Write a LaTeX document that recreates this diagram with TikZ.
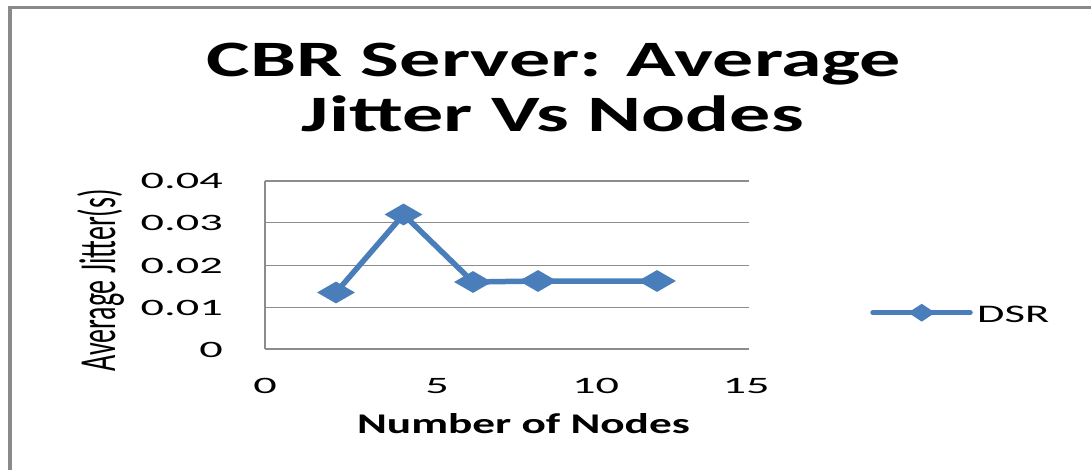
\documentclass[tikz,border=0pt]{standalone}
\usepackage{fontspec}
\setmainfont{Carlito}
\usetikzlibrary{shapes.geometric}
\definecolor{serblue}{RGB}{74,126,187}
\definecolor{gridgray}{RGB}{140,140,140}
\definecolor{framegray}{RGB}{138,138,138}
\begin{document}
\begin{tikzpicture}[x=1pt,y=-1pt,
  frameline/.style={draw=framegray},
  gridline/.style={draw=gridgray,line width=1.5pt},
  dataline/.style={draw=serblue,line width=5.5pt,line join=round,line cap=round},
  marker/.style={diamond,fill=serblue,draw=none,inner sep=0pt,minimum width=38pt,minimum height=22pt},
  legmarker/.style={diamond,fill=serblue,draw=none,inner sep=0pt,minimum width=27pt,minimum height=18pt},
  ticklab/.style={inner sep=0pt,font=\fontsize{23.5}{23.5}\selectfont},
  titlelab/.style={inner sep=0pt,anchor=base,font=\fontsize{51}{51}\selectfont\bfseries},
]
\useasboundingbox (0,0) rectangle (1091,470);
\fill[white] (0,0) rectangle (1091,470);
% frame
\draw[frameline,line width=3pt] (8,7.5) -- (1091,7.5);
\draw[frameline,line width=4pt] (10,6) -- (10,470);
% title
\node[titlelab] (t1) at (554,77) {\scalebox{1.61}[1]{CBR Server: Average}};
\node[titlelab] (t2) at (553,132) {\scalebox{1.61}[1]{Jitter Vs Nodes}};
% grid
\foreach \y in {181,222.3,265.7,307.7,349} {
  \draw[gridline] (265,\y) -- (749,\y);
}
\draw[gridline] (265,181) -- (265,349);
% y tick labels
\node[ticklab,anchor=base east] (y4) at (223,189) {\scalebox{1.97}[1]{0.04}};
\node[ticklab,anchor=base east] (y3) at (223,230.5) {\scalebox{1.97}[1]{0.03}};
\node[ticklab,anchor=base east] (y2) at (223,273.5) {\scalebox{1.97}[1]{0.02}};
\node[ticklab,anchor=base east] (y1) at (223,315.5) {\scalebox{1.97}[1]{0.01}};
\node[ticklab,anchor=base east] (y0) at (223,357) {\scalebox{1.97}[1]{0}};
% x tick labels
\node[ticklab,anchor=base] (x0) at (265,393) {\scalebox{1.97}[1]{0}};
\node[ticklab,anchor=base] (x5) at (437,393) {\scalebox{1.97}[1]{5}};
\node[ticklab,anchor=base] (x10) at (595.5,393) {\scalebox{1.97}[1]{10}};
\node[ticklab,anchor=base] (x15) at (746,393) {\scalebox{1.97}[1]{15}};
% axis titles
\node[inner sep=0pt,anchor=base,font=\fontsize{28.5}{28.5}\selectfont\bfseries] (xt) at (523.5,433) {\scalebox{1.59}[1]{Number of Nodes}};
\node[inner sep=0pt,anchor=base,rotate=90,font=\fontsize{28}{28}\selectfont] (yt) at (115,280.5) {\scalebox{1}[1.86]{Average Jitter(s)}};
% data
\coordinate (c1) at (336,292.5);
\coordinate (c2) at (403.5,214.5);
\coordinate (c3) at (473,282);
\coordinate (c4) at (538,281);
\coordinate (c5) at (657,281);
\draw[dataline] (c1) -- (c2) -- (c3) -- (c4) -- (c5);
\node[marker] (p1) at (c1) {};
\node[marker] (p2) at (c2) {};
\node[marker] (p3) at (c3) {};
\node[marker] (p4) at (c4) {};
\node[marker] (p5) at (c5) {};
% legend
\coordinate (la) at (873,312.7);
\coordinate (lb) at (970,312.7);
\draw[dataline] (la) -- (lb);
\node[legmarker] (lm) at (921.7,312.7) {};
\node[inner sep=0pt,anchor=base west,font=\fontsize{25.3}{25.3}\selectfont] (lt) at (977,322) {\scalebox{1.76}[1]{DSR}};
\end{tikzpicture}
\end{document}
